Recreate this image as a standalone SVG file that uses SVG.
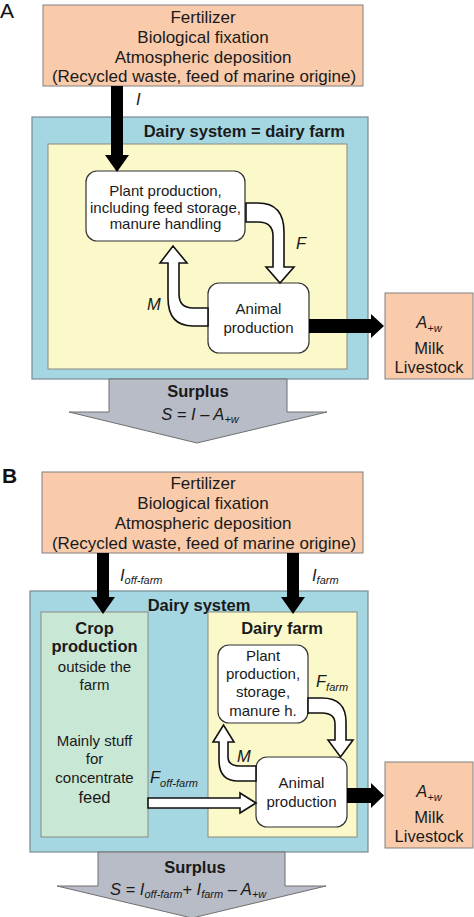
<svg xmlns="http://www.w3.org/2000/svg" width="474" height="917" viewBox="0 0 474 917">
<style>
text{font-family:"Liberation Sans",Arial,sans-serif;fill:#1a1a1a}
.t{font-size:16.5px;text-anchor:middle}
.o{font-size:17px;text-anchor:middle}
.s{font-size:15px;text-anchor:middle}
.b{font-size:16.5px;font-weight:bold}
.i{font-size:16.5px;font-style:italic}
.sub{font-size:11px;font-style:italic}
.src{fill:#f9cbab;stroke:#808080;stroke-width:1}
.sys{fill:#a5d7e2;stroke:#7a8a90;stroke-width:1.2}
.farm{fill:#fbf8c9;stroke:#8a8a80;stroke-width:1}
.crop{fill:#c9e7d5;stroke:#8a8a80;stroke-width:1}
.node{fill:#ffffff;stroke:#333333;stroke-width:1.2}
.hollow{fill:#ffffff;stroke:#111111;stroke-width:1.6;stroke-linejoin:miter}
.solid{fill:#000000}
.surplus{fill:#b8bcc6;stroke:#6f6f6f;stroke-width:1}
.lbl{font-size:21px;fill:#111}
</style>

<!-- Panel A -->
<text class="lbl" x="0" y="18">A</text>
<g id="a-inputs">
<rect class="src" x="43" y="5" width="320" height="81"/>
<text class="o" x="203" y="23">Fertilizer</text>
<text class="o" x="203" y="43">Biological fixation</text>
<text class="o" x="203" y="63">Atmospheric deposition</text>
<text class="o" x="204" y="82">(Recycled waste, feed of marine origine)</text>
</g>
<g id="a-system">
<rect class="sys" x="32" y="117" width="336" height="262"/>
<text class="b" x="345" y="137" text-anchor="end">Dairy system = dairy farm</text>
<rect class="farm" x="48" y="144" width="299" height="225"/>
</g>
<g id="a-plant">
<rect class="node" x="86" y="171" width="159" height="70" rx="11"/>
<text class="s" x="165.5" y="196">Plant production,</text>
<text class="s" x="165.5" y="213">including feed storage,</text>
<text class="s" x="165.5" y="229">manure handling</text>
</g>
<g id="a-animal">
<rect class="node" x="208" y="283" width="101" height="70" rx="11"/>
<text class="s" x="258.5" y="314">Animal</text>
<text class="s" x="258.5" y="333">production</text>
</g>
<g id="a-output">
<rect class="src" x="385" y="293" width="88" height="86"/>
<text x="429" y="328" text-anchor="middle"><tspan class="i" font-size="18">A</tspan><tspan class="sub" font-size="12" dy="4">+w</tspan></text>
<text class="t" x="429" y="354">Milk</text>
<text class="t" x="429" y="373">Livestock</text>
</g>
<g id="a-surplus">
<path class="surplus" d="M109,379 L287,379 L287,412 L327,412 L197,443 L69,412 L109,412 Z"/>
<text class="b" x="198" y="397" text-anchor="middle">Surplus</text>
<text x="200" y="420" text-anchor="middle"><tspan class="i" font-size="18">S = I – A</tspan><tspan class="sub" font-size="12" dy="3">+w</tspan></text>
</g>
<g id="a-connectors">
<path class="solid" d="M111,86 L123,86 L123,155 L129,155 L117,172 L105,155 L111,155 Z"/>
<text class="i" x="136" y="105" font-size="17">I</text>
<path class="hollow" d="M246,203 L258,203 Q284,203 284,232 L284,267 L294,267 L280,283 L266,267 L273,267 L273,236 Q273,222 258,222 L246,222 Z"/>
<text class="i" x="296" y="249" font-size="17">F</text>
<path class="hollow" d="M208,326 L193,326 Q168,326 168,298 L168,263 L160,263 L173,246 L187,263 L179,263 L179,294 Q179,308 193,308 L208,308 Z"/>
<text class="i" x="147" y="310" font-size="17">M</text>
<path class="solid" d="M309,319 L371,319 L371,314 L384,326 L371,338 L371,333 L309,333 Z"/>
</g>

<!-- Panel B -->
<text class="lbl" x="2" y="483" font-weight="bold" font-size="19">B</text>
<g id="b-inputs">
<rect class="src" x="42" y="472" width="321" height="81"/>
<text class="o" x="203" y="489">Fertilizer</text>
<text class="o" x="203" y="509">Biological fixation</text>
<text class="o" x="203" y="529">Atmospheric deposition</text>
<text class="o" x="204" y="549">(Recycled waste, feed of marine origine)</text>
</g>
<g id="b-system">
<rect class="sys" x="30" y="591" width="338" height="261"/>
<text class="b" x="199" y="611" text-anchor="middle">Dairy system</text>
</g>
<g id="b-crop">
<rect class="crop" x="41" y="612" width="107" height="225"/>
<text class="b" x="94.5" y="634" text-anchor="middle">Crop</text>
<text class="b" x="94.5" y="652" text-anchor="middle">production</text>
<text class="s" x="94.5" y="672">outside the</text>
<text class="s" x="94.5" y="690">farm</text>
<text class="s" x="94.5" y="746">Mainly stuff</text>
<text class="s" x="94.5" y="764">for</text>
<text class="s" x="94.5" y="783">concentrate</text>
<text class="t" x="94.5" y="803">feed</text>
</g>
<g id="b-farm">
<rect class="farm" x="208" y="612" width="149" height="225"/>
<text class="b" x="282" y="634" text-anchor="middle">Dairy farm</text>
</g>
<g id="b-plant">
<rect class="node" x="218" y="645" width="90" height="78" rx="11"/>
<text class="s" x="263" y="661">Plant</text>
<text class="s" x="263" y="679">production,</text>
<text class="s" x="263" y="697">storage,</text>
<text class="s" x="263" y="716">manure h.</text>
</g>
<g id="b-animal">
<rect class="node" x="256" y="757" width="91" height="70" rx="11"/>
<text class="s" x="301.5" y="788">Animal</text>
<text class="s" x="301.5" y="807">production</text>
</g>
<g id="b-output">
<rect class="src" x="385" y="762" width="88" height="86"/>
<text x="429" y="797" text-anchor="middle"><tspan class="i" font-size="18">A</tspan><tspan class="sub" font-size="12" dy="4">+w</tspan></text>
<text class="t" x="429" y="823">Milk</text>
<text class="t" x="429" y="842">Livestock</text>
</g>
<g id="b-surplus">
<path class="surplus" d="M98,852 L285,852 L285,886 L326,886 L192,918 L57,886 L98,886 Z"/>
<text class="b" x="195" y="873" text-anchor="middle">Surplus</text>
<text x="110" y="895"><tspan class="i" font-size="18">S = I</tspan><tspan class="sub" font-size="12" dy="3">off-farm</tspan><tspan class="i" font-size="18" dy="-3">+ I</tspan><tspan class="sub" font-size="12" dy="3">farm</tspan><tspan class="i" font-size="18" dy="-3"> – A</tspan><tspan class="sub" font-size="11" dy="3">+w</tspan></text>
</g>
<g id="b-connectors">
<path class="solid" d="M97,553 L109,553 L109,597 L115,597 L103,614 L91,597 L97,597 Z"/>
<text x="120" y="581"><tspan class="i" font-size="17">I</tspan><tspan class="sub" font-size="12" dy="3">off-farm</tspan></text>
<path class="solid" d="M287,553 L299,553 L299,597 L305,597 L293,614 L281,597 L287,597 Z"/>
<text x="312" y="581"><tspan class="i" font-size="17">I</tspan><tspan class="sub" font-size="12" dy="3">farm</tspan></text>
<path class="hollow" d="M308,698 L322,698 Q346,698 346,722 L346,740 L353,740 L340.5,757 L328,740 L335,740 L335,724 Q335,713 322,713 L308,713 Z"/>
<text x="316" y="687"><tspan class="i" font-size="17">F</tspan><tspan class="sub" font-size="12" dy="4">farm</tspan></text>
<path class="hollow" d="M256,781 L238,781 Q219,781 219,760 L219,742 L213,742 L223.5,725 L234,742 L228,742 L228,757 Q228,766 240,766 L256,766 Z"/>
<text class="i" x="237" y="762" font-size="17">M</text>
<path class="hollow" d="M148,798 L240,798 L240,793 L256,803 L240,813 L240,808 L148,808 Z"/>
<text x="150" y="783"><tspan class="i" font-size="17">F</tspan><tspan class="sub" font-size="12" dy="4">off-farm</tspan></text>
<path class="solid" d="M347,788 L371,788 L371,783 L384,795.5 L371,808 L371,803 L347,803 Z"/>
</g>
</svg>
